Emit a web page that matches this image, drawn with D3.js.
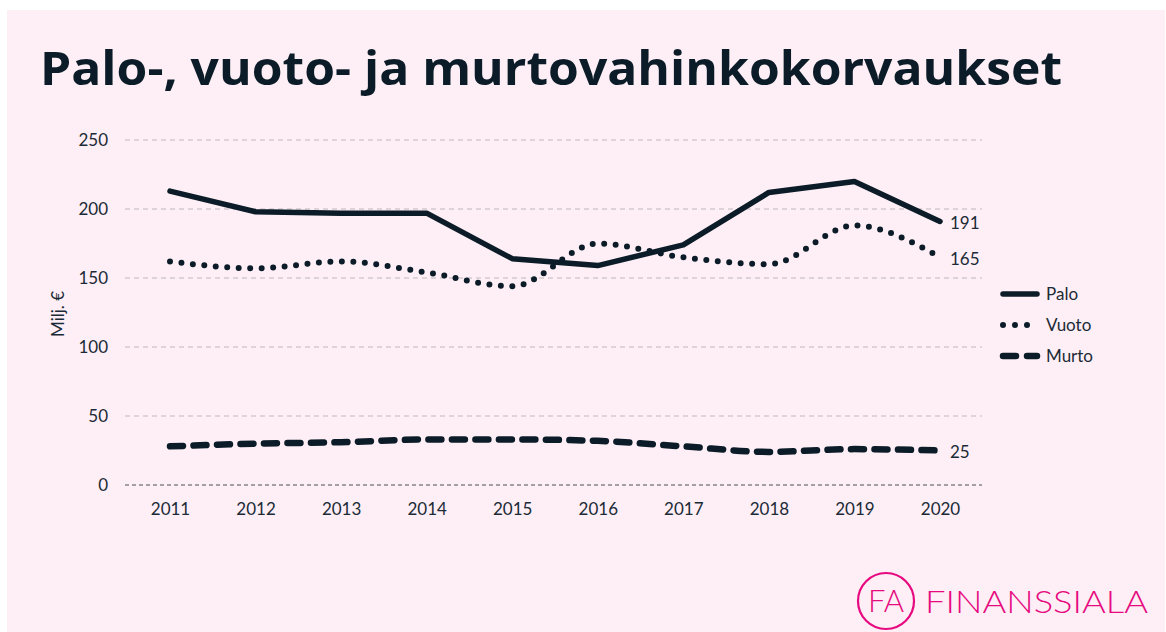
<!DOCTYPE html>
<html>
<head>
<meta charset="utf-8">
<script src="https://cdn.jsdelivr.net/npm/d3@7"></script>
<style>
  body { margin: 0; background: #fff; }
  .tick-text { font-family: "Lato", "Open Sans", sans-serif; font-size: 17px; fill: #1b2a36; }
  .axis-label { font-family: "Lato", "Open Sans", sans-serif; font-size: 17px; fill: #1b2a36; }
</style>
</head>
<body>
<div id="chart"></div>
<script>
// data
const years = [2011, 2012, 2013, 2014, 2015, 2016, 2017, 2018, 2019, 2020];
const palo = [213, 198, 197, 197, 164, 159, 174, 212, 220, 191];
const vuoto = [162, 157, 162, 154, 144, 175, 165, 160, 188, 165];
const murto = [28, 30, 31, 33, 33, 32, 28, 24, 26, 25];
const seriesNames = ['Palo', 'Vuoto', 'Murto'];
const yTicks = [0, 50, 100, 150, 200, 250];

const W = 1166, H = 632;
const ink = '#0b1c28';

const svg = d3.select('#chart').append('svg')
  .attr('width', W)
  .attr('height', H);

// background panel
svg.append('rect')
  .attr('x', 7).attr('y', 10)
  .attr('width', 1158).attr('height', 622)
  .attr('fill', '#fdeff5');

// title
svg.append('text')
  .attr('x', 40).attr('y', 85)
  .attr('font-family', '"Open Sans", sans-serif')
  .attr('font-weight', 700)
  .attr('font-size', 47)
  .attr('fill', '#0b1c28')
  .attr('textLength', 1022)
  .attr('lengthAdjust', 'spacingAndGlyphs')
  .text('Palo-, vuoto- ja murtovahinkokorvaukset');

// scales
const xScale = d3.scalePoint()
  .domain(years)
  .range([170, 940]);

const yScale = d3.scaleLinear()
  .domain([0, 250])
  .range([485, 140]);

// grid
svg.append('g')
  .selectAll('line')
  .data(yTicks)
  .enter()
  .append('line')
    .attr('x1', 125).attr('x2', 982)
    .attr('y1', d => yScale(d)).attr('y2', d => yScale(d))
    .attr('stroke', d => d === 0 ? '#4a4f55' : '#bdb7bb')
    .attr('stroke-width', 1)
    .attr('stroke-dasharray', d => d === 0 ? '4 3' : '5 4');

// y axis labels
const yAxis = d3.axisLeft(yScale).tickValues(yTicks).tickSize(0).tickPadding(0);
const gy = svg.append('g')
  .attr('transform', 'translate(108,0)')
  .call(yAxis);
gy.select('.domain').remove();
gy.selectAll('text').attr('class', 'tick-text').attr('dy', '0.32em');

// x axis labels
const xAxis = d3.axisBottom(xScale).tickSize(0).tickPadding(0);
const gx = svg.append('g')
  .attr('transform', 'translate(0,503)')
  .call(xAxis);
gx.select('.domain').remove();
gx.selectAll('text').attr('class', 'tick-text').attr('dy', '0.71em');

// y label
svg.append('text')
  .attr('class', 'axis-label')
  .attr('text-anchor', 'middle')
  .attr('transform', 'translate(64,314) rotate(-90)')
  .text('Milj. €');

// lines
const styles = {
  Palo: { dash: null, width: 5.5, cap: 'round', curve: d3.curveLinear },
  Vuoto: { dash: '0 11.5', width: 6, cap: 'round', curve: d3.curveMonotoneX },
  Murto: { dash: '13 10.5', width: 6.5, cap: 'round', curve: d3.curveMonotoneX }
};
const seriesData = { Palo: palo, Vuoto: vuoto, Murto: murto };

seriesNames.forEach(name => {
  const st = styles[name];
  const line = d3.line()
    .x((d, i) => xScale(years[i]))
    .y(d => yScale(d))
    .curve(st.curve);
  svg.append('path')
    .datum(seriesData[name])
    .attr('d', line)
    .attr('fill', 'none')
    .attr('stroke', ink)
    .attr('stroke-width', st.width)
    .attr('stroke-linecap', st.cap)
    .attr('stroke-linejoin', 'round')
    .attr('stroke-dasharray', st.dash);

  // end value label
  const last = seriesData[name][seriesData[name].length - 1];
  svg.append('text')
    .attr('class', 'tick-text')
    .attr('x', xScale(years[years.length - 1]) + 10)
    .attr('y', yScale(last) + 2)
    .attr('dy', '0.32em')
    .text(last);
});

// legend
const legend = svg.append('g').attr('transform', 'translate(1000,294)');
seriesNames.forEach((name, i) => {
  const st = styles[name];
  const g = legend.append('g').attr('transform', `translate(0,${i * 31})`);
  g.append('line')
    .attr('x1', 3).attr('x2', 37)
    .attr('y1', 0).attr('y2', 0)
    .attr('stroke', ink)
    .attr('stroke-width', st.width)
    .attr('stroke-linecap', 'round')
    .attr('stroke-dasharray', name === 'Vuoto' ? '0 12' : (name === 'Murto' ? '13 11' : null));
  g.append('text')
    .attr('class', 'tick-text')
    .attr('x', 46).attr('y', 0)
    .attr('dy', '0.35em')
    .attr('font-size', 18)
    .text(name);
});

// logo
const pink = '#e6097f';
const logo = svg.append('g').attr('transform', 'translate(886,601)');
logo.append('circle')
  .attr('r', 28)
  .attr('fill', 'none')
  .attr('stroke', pink)
  .attr('stroke-width', 2.2);
logo.append('text')
  .attr('text-anchor', 'middle')
  .attr('y', 11)
  .attr('font-family', 'Lato, sans-serif')
  .attr('font-weight', 300)
  .attr('font-size', 31)
  .attr('fill', pink)
  .text('FA');
svg.append('text')
  .attr('x', 925).attr('y', 613)
  .attr('font-family', 'Lato, sans-serif')
  .attr('font-weight', 300)
  .attr('font-size', 31)
  .attr('fill', pink)
  .attr('textLength', 223)
  .attr('lengthAdjust', 'spacingAndGlyphs')
  .text('FINANSSIALA');
</script>
</body>
</html>
